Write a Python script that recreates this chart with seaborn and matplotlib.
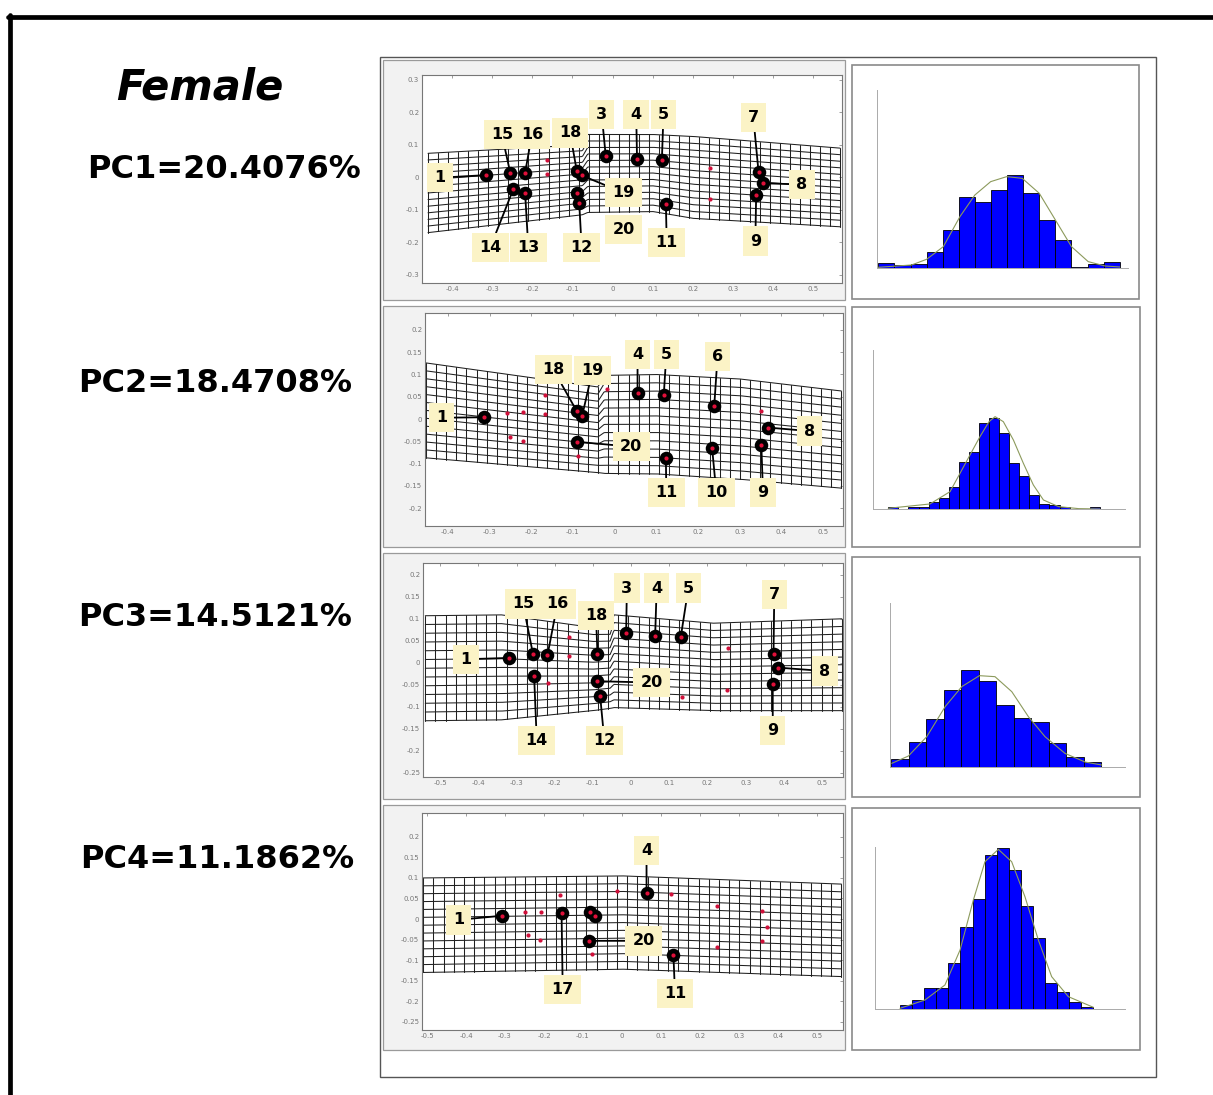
import numpy as np
import pandas as pd
import seaborn as sns
import matplotlib
matplotlib.use("Agg")
import matplotlib.pyplot as plt
from matplotlib.lines import Line2D
from matplotlib.patches import Rectangle

sns.set_style("white")
plt.rcParams["font.family"] = ["DejaVu Sans"]
plt.rcParams["text.color"] = "black"

W, H = 1213, 1095

title = "Female"
pc_labels = ["PC1=20.4076%", "PC2=18.4708%", "PC3=14.5121%", "PC4=11.1862%"]

# ---------- PC1 deformation grid ----------
pc1_ids = ["1", "15", "16", "14", "13", "18", "19", "20", "12", "3", "4", "5", "11", "7", "8", "9"]
pc1_x = [-0.315, -0.255, -0.218, -0.247, -0.218, -0.089, -0.077, -0.089, -0.083, -0.017, 0.061, 0.123, 0.133, 0.364, 0.374, 0.358]
pc1_y = [0.007, 0.014, 0.014, -0.035, -0.047, 0.019, 0.006, -0.047, -0.080, 0.066, 0.058, 0.055, -0.083, 0.016, -0.018, -0.055]
pc1_lab_x = [-0.43, -0.276, -0.201, -0.305, -0.21, -0.106, 0.027, 0.027, -0.077, -0.027, 0.059, 0.127, 0.135, 0.351, 0.472, 0.356]
pc1_lab_y = [-0.001, 0.132, 0.132, -0.216, -0.216, 0.137, -0.047, -0.16, -0.216, 0.194, 0.194, 0.194, -0.2, 0.184, -0.022, -0.196]
pc1_no_line = ["20"]
pc1_dot_x = [-0.164, -0.164, 0.243, 0.243]
pc1_dot_y = [0.055, 0.009, 0.030, -0.066]
pc1_edge_x = [-0.46, -0.075, -0.062, 0.1, 0.2, 0.567]
pc1_edge_top = [0.074, 0.100, 0.132, 0.132, 0.126, 0.090]
pc1_edge_bot = [-0.170, -0.115, -0.108, -0.105, -0.126, -0.152]
pc1_xticks = [-0.4, -0.3, -0.2, -0.1, 0, 0.1, 0.2, 0.3, 0.4, 0.5]
pc1_yticks = [-0.3, -0.2, -0.1, 0, 0.1, 0.2, 0.3]
pc1_xlim = (-0.475, 0.572)
pc1_ylim = (-0.325, 0.315)

# ---------- PC2 ----------
pc2_ids = ["1", "18", "19", "20", "4", "5", "6", "10", "11", "8", "9"]
pc2_x = [-0.314, -0.091, -0.078, -0.091, 0.055, 0.118, 0.239, 0.234, 0.123, 0.367, 0.352]
pc2_y = [0.004, 0.018, 0.007, -0.051, 0.059, 0.055, 0.029, -0.066, -0.087, -0.019, -0.058]
pc2_lab_x = [-0.415, -0.147, -0.053, 0.04, 0.055, 0.124, 0.247, 0.244, 0.124, 0.468, 0.356]
pc2_lab_y = [0.003, 0.111, 0.109, -0.062, 0.145, 0.145, 0.141, -0.165, -0.165, -0.027, -0.165]
pc2_no_line = []
pc2_dot_x = [-0.259, -0.219, -0.166, -0.166, -0.251, -0.219, -0.087, -0.019, 0.352]
pc2_dot_y = [0.014, 0.016, 0.012, 0.055, -0.040, -0.049, -0.083, 0.067, 0.018]
pc2_edge_x = [-0.453, -0.04, -0.025, 0.1, 0.3, 0.544]
pc2_edge_top = [0.126, 0.072, 0.098, 0.100, 0.090, 0.063]
pc2_edge_bot = [-0.087, -0.120, -0.122, -0.123, -0.135, -0.155]
pc2_xticks = [-0.4, -0.3, -0.2, -0.1, 0, 0.1, 0.2, 0.3, 0.4, 0.5]
pc2_yticks = [-0.2, -0.15, -0.1, -0.05, 0, 0.05, 0.1, 0.15, 0.2]
pc2_xlim = (-0.455, 0.548)
pc2_ylim = (-0.24, 0.238)

# ---------- PC3 ----------
pc3_ids = ["1", "15", "16", "14", "18", "20", "12", "3", "4", "5", "7", "8", "9"]
pc3_x = [-0.319, -0.257, -0.219, -0.254, -0.088, -0.090, -0.081, -0.013, 0.063, 0.130, 0.373, 0.384, 0.371]
pc3_y = [0.011, 0.020, 0.017, -0.030, 0.020, -0.042, -0.076, 0.068, 0.061, 0.058, 0.020, -0.011, -0.049]
pc3_lab_x = [-0.432, -0.283, -0.193, -0.247, -0.092, 0.054, -0.07, -0.011, 0.067, 0.15, 0.375, 0.508, 0.371]
pc3_lab_y = [0.008, 0.134, 0.134, -0.177, 0.108, -0.045, -0.177, 0.17, 0.17, 0.17, 0.155, -0.019, -0.154]
pc3_no_line = []
pc3_dot_x = [-0.162, -0.162, -0.218, 0.133, 0.255, 0.250]
pc3_dot_y = [0.058, 0.015, -0.045, -0.078, 0.034, -0.061]
pc3_edge_x = [-0.539, -0.34, -0.1, -0.055, -0.045, 0.215, 0.552]
pc3_edge_top = [0.107, 0.109, 0.080, 0.080, 0.109, 0.090, 0.100]
pc3_edge_bot = [-0.132, -0.130, -0.109, -0.104, -0.102, -0.109, -0.109]
pc3_xticks = [-0.5, -0.4, -0.3, -0.2, -0.1, 0, 0.1, 0.2, 0.3, 0.4, 0.5]
pc3_yticks = [-0.25, -0.2, -0.15, -0.1, -0.05, 0, 0.05, 0.1, 0.15, 0.2]
pc3_xlim = (-0.545, 0.555)
pc3_ylim = (-0.26, 0.227)

# ---------- PC4 ----------
pc4_ids = ["1", "17", "20", "4", "11", "", ""]
pc4_x = [-0.307, -0.155, -0.085, 0.063, 0.132, -0.083, -0.069]
pc4_y = [0.008, 0.014, -0.053, 0.063, -0.088, 0.016, 0.008]
pc4_lab_x = [-0.42, -0.152, 0.055, 0.063, 0.136, None, None]
pc4_lab_y = [-0.002, -0.171, -0.053, 0.167, -0.181, None, None]
pc4_no_line = []
pc4_dot_x = [-0.249, -0.208, -0.240, -0.210, -0.159, -0.078, -0.012, 0.127, 0.245, 0.243, 0.360, 0.373, 0.358]
pc4_dot_y = [0.018, 0.017, -0.039, -0.050, 0.059, -0.084, 0.069, 0.061, 0.032, -0.068, 0.019, -0.019, -0.054]
pc4_edge_x = [-0.51, 0.0, 0.563]
pc4_edge_top = [0.100, 0.105, 0.085]
pc4_edge_bot = [-0.130, -0.122, -0.140]
pc4_xticks = [-0.5, -0.4, -0.3, -0.2, -0.1, 0, 0.1, 0.2, 0.3, 0.4, 0.5]
pc4_yticks = [-0.25, -0.2, -0.15, -0.1, -0.05, 0, 0.05, 0.1, 0.15, 0.2]
pc4_xlim = (-0.513, 0.567)
pc4_ylim = (-0.27, 0.258)

h1_counts = [17, 10, 13, 50, 115, 215, 200, 235, 280, 225, 145, 85, 3, 13, 18]
h1_curve_x = [0, 2.07, 3, 4.04, 5.07, 6, 6.98, 7.97, 8.94, 10, 11, 12, 13.04, 14.08, 15]
h1_curve_y = [3, 10, 27, 65, 155, 220, 260, 275, 270, 225, 145, 65, 20, 7, 4]
h2_counts = [8, 2, 6, 8, 23, 33, 68, 143, 173, 260, 273, 228, 140, 100, 43, 16, 13, 8, 0, 2, 8]
h2_curve_x = [0, 4.14, 6.13, 7.12, 8.11, 9.1, 10, 10.6, 11.42, 12.42, 13.41, 14.4, 15.4, 16.9, 18.9, 21]
h2_curve_y = [3, 16, 53, 108, 163, 218, 263, 278, 263, 208, 138, 73, 28, 8, 2, 1]
h3_counts = [22, 75, 143, 230, 290, 257, 185, 145, 135, 72, 30, 13]
h3_curve_x = [0.04, 0.99, 2.04, 3.09, 4.04, 5.05, 5.94, 6.9, 7.85, 8.8, 9.94, 11.09, 12.04]
h3_curve_y = [10, 32, 90, 180, 240, 273, 270, 225, 150, 90, 40, 14, 5]
h4_counts = [13, 28, 65, 63, 140, 248, 330, 463, 483, 418, 310, 213, 80, 53, 23, 6]
h4_curve_x = [0, 2.07, 3.72, 4.97, 6.07, 7.03, 8.14, 9.24, 10.34, 11.45, 12.55, 13.93, 16]
h4_curve_y = [3, 28, 73, 178, 328, 443, 480, 443, 338, 208, 98, 38, 6]


def px_axes(fig, l, t, r, b):
    return fig.add_axes([l / W, 1 - b / H, (r - l) / W, (b - t) / H])


def px_box(fig, l, t, r, b, fc, ec, lw):
    fig.add_artist(Rectangle((l / W, 1 - b / H), (r - l) / W, (b - t) / H,
                             transform=fig.transFigure, fc=fc, ec=ec, lw=lw, zorder=0))


def fmt(v):
    return "%g" % round(v, 2)


fig = plt.figure(figsize=(W / 100, H / 100), dpi=100)
fig.patch.set_facecolor("white")

# thick black frame (open on right / bottom as in the crop)
fig.add_artist(Line2D([8 / W, 1], [1 - 17 / H, 1 - 17 / H], transform=fig.transFigure, color="black", lw=3.4))
fig.add_artist(Line2D([10 / W, 10 / W], [1 - 15 / H, 0], transform=fig.transFigure, color="black", lw=3.4))

# grey outer frame
px_box(fig, 380, 57, 1156, 1077, "white", "#555555", 1.0)

fig.text(200 / W, 1 - 88 / H, title, fontsize=30, fontweight="bold", fontstyle="italic",
         ha="center", va="center", color="black")
for lab, (lx, ly) in zip(pc_labels, [(87, 170), (78, 383), (78, 617), (80, 860)]):
    fig.text(lx / W, 1 - ly / H, lab, fontsize=23, fontweight="bold", ha="left", va="center",
             color="black")

panels = [
    dict(ids=pc1_ids, x=pc1_x, y=pc1_y, lx=pc1_lab_x, ly=pc1_lab_y, noline=pc1_no_line,
         dx=pc1_dot_x, dy=pc1_dot_y, ex=pc1_edge_x, et=pc1_edge_top, eb=pc1_edge_bot,
         xt=pc1_xticks, yt=pc1_yticks, xlim=pc1_xlim, ylim=pc1_ylim),
    dict(ids=pc2_ids, x=pc2_x, y=pc2_y, lx=pc2_lab_x, ly=pc2_lab_y, noline=pc2_no_line,
         dx=pc2_dot_x, dy=pc2_dot_y, ex=pc2_edge_x, et=pc2_edge_top, eb=pc2_edge_bot,
         xt=pc2_xticks, yt=pc2_yticks, xlim=pc2_xlim, ylim=pc2_ylim),
    dict(ids=pc3_ids, x=pc3_x, y=pc3_y, lx=pc3_lab_x, ly=pc3_lab_y, noline=pc3_no_line,
         dx=pc3_dot_x, dy=pc3_dot_y, ex=pc3_edge_x, et=pc3_edge_top, eb=pc3_edge_bot,
         xt=pc3_xticks, yt=pc3_yticks, xlim=pc3_xlim, ylim=pc3_ylim),
    dict(ids=pc4_ids, x=pc4_x, y=pc4_y, lx=pc4_lab_x, ly=pc4_lab_y, noline=pc4_no_line,
         dx=pc4_dot_x, dy=pc4_dot_y, ex=pc4_edge_x, et=pc4_edge_top, eb=pc4_edge_bot,
         xt=pc4_xticks, yt=pc4_yticks, xlim=pc4_xlim, ylim=pc4_ylim),
]

grid_boxes = [(383, 60, 845, 300), (383, 306, 845, 547), (383, 553, 845, 799), (383, 805, 845, 1050)]
grid_axes = [(422, 75, 842, 283), (425, 313, 843, 526), (423, 563, 843, 777), (422, 813, 843, 1030)]

for p, box, rect in zip(panels, grid_boxes, grid_axes):
    px_box(fig, *box, "#f2f2f2", "#9a9a9a", 0.9)
    ax = px_axes(fig, *rect)
    ax.set_facecolor("white")

    # deformation grid
    x0, x1 = p["ex"][0], p["ex"][-1]
    dense = np.linspace(x0, x1, 400)
    top = np.interp(dense, p["ex"], p["et"])
    bot = np.interp(dense, p["ex"], p["eb"])
    for f in np.linspace(0, 1, 13):
        ax.plot(dense, bot + f * (top - bot), color="#202020", lw=0.75, zorder=1)
    for xv in np.linspace(x0, x1, 42):
        ax.plot([xv, xv], [np.interp(xv, p["ex"], p["eb"]), np.interp(xv, p["ex"], p["et"])],
                color="#202020", lw=0.75, zorder=1)

    # labels + leader lines
    for i, lid in enumerate(p["ids"]):
        if not lid:
            continue
        ap = None if lid in p["noline"] else dict(arrowstyle="-", color="black", lw=1.3,
                                                   shrinkA=0, shrinkB=2)
        ax.annotate(lid, xy=(p["x"][i], p["y"][i]), xytext=(p["lx"][i], p["ly"][i]),
                    fontsize=11.5, fontweight="bold", ha="center", va="center", color="black",
                    arrowprops=ap, zorder=3,
                    bbox=dict(boxstyle="square,pad=0.45", fc="#fbf3c6", ec="none"))

    sns.scatterplot(x=p["dx"], y=p["dy"], ax=ax, s=9, color="#d0103a", linewidth=0, zorder=4)
    sns.scatterplot(x=p["x"], y=p["y"], ax=ax, s=95, color="black", linewidth=0, zorder=5)
    sns.scatterplot(x=p["x"], y=p["y"], ax=ax, s=9, color="#e0103a", linewidth=0, zorder=6)

    ax.set_xlim(*p["xlim"])
    ax.set_ylim(*p["ylim"])
    ax.set_xticks(p["xt"])
    ax.set_xticklabels([fmt(v) for v in p["xt"]])
    ax.set_yticks(p["yt"])
    ax.set_yticklabels([fmt(v) for v in p["yt"]])
    ax.tick_params(direction="in", length=2.5, width=0.5, colors="#777777", labelsize=5, pad=2)
    ax.tick_params(top=True, right=True, labeltop=False, labelright=False)
    for sp in ax.spines.values():
        sp.set_color("#777777")
        sp.set_linewidth(0.8)

# histograms
hists = [
    (h1_counts, h1_curve_x, h1_curve_y, (876.7, 90, 1128.3, 268.3), (-0.1, 15.53), 535),
    (h2_counts, h2_curve_x, h2_curve_y, (873.3, 350, 1125, 509.3), (-1.49, 23.5), 478),
    (h3_counts, h3_curve_x, h3_curve_y, (890, 603.3, 1125, 766.7), (-0.06, 13.37), 490),
    (h4_counts, h4_curve_x, h4_curve_y, (875, 846.7, 1125, 1009.3), (-2.07, 18.62), 488),
]
hist_boxes = [(852, 65, 1139, 299), (852, 307, 1140, 547), (852, 557, 1140, 797), (852, 808, 1140, 1050)]

for (counts, cx, cy, rect, xl, ytop), box in zip(hists, hist_boxes):
    px_box(fig, *box, "white", "#8a8a8a", 1.2)
    ax = px_axes(fig, *rect)
    n = len(counts)
    df = pd.DataFrame({"bin": np.arange(n) + 0.5, "count": counts})
    sns.histplot(data=df, x="bin", weights="count", bins=list(range(n + 1)), ax=ax,
                 color="#0000ff", edgecolor="black", linewidth=0.6, alpha=1.0)
    sns.lineplot(x=cx, y=cy, ax=ax, color="#8c9a5c", lw=0.8, legend=False, zorder=3)
    ax.set_xlim(*xl)
    ax.set_ylim(0, ytop)
    ax.set_xlabel("")
    ax.set_ylabel("")
    ax.set_facecolor("none")
    sns.despine(ax=ax)
    ax.set_xticks(np.linspace(xl[0], xl[1], 11))
    ax.set_yticks(np.linspace(0, ytop, 11))
    ax.set_xticklabels([])
    ax.set_yticklabels([])
    ax.tick_params(direction="in", length=2, width=0.4, colors="#aaaaaa")
    for sp in ("left", "bottom"):
        ax.spines[sp].set_color("#aaaaaa")
        ax.spines[sp].set_linewidth(0.7)

fig.savefig("out.png", dpi=100)
